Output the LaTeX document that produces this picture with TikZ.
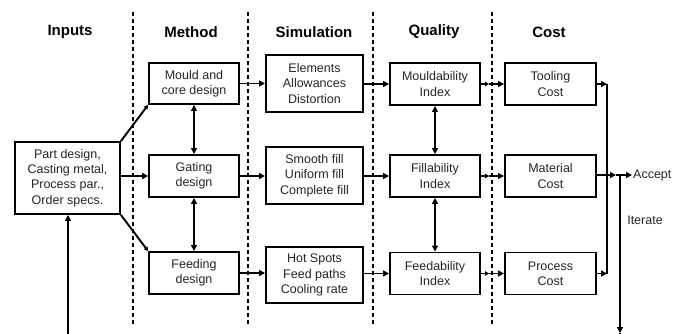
\documentclass[tikz,border=0pt]{standalone}
\usepackage{fontspec}
\setmainfont{Liberation Sans}
\usetikzlibrary{arrows.meta}
\begin{document}
\begin{tikzpicture}[x=1pt,y=-1pt,
  box/.style={draw, line width=1.9pt, align=center, inner sep=1pt,
    font=\fontsize{12.5}{15.3}\selectfont, text=black!85},
  hdr/.style={font=\fontsize{15}{18}\selectfont\bfseries},
  lbl/.style={font=\fontsize{12.5}{15}\selectfont, text=black!85, inner sep=1pt},
  arr/.style={line width=1.9pt, -{Triangle[length=6pt,width=6pt]}},
  sarr/.style={line width=1.9pt, -{Triangle[length=4pt,width=4.5pt]}},
  darr/.style={line width=1.9pt, {Triangle[length=6pt,width=6pt]}-{Triangle[length=6pt,width=6pt]}},
  ln/.style={line width=1.9pt},
  sep/.style={line width=1.9pt, dash pattern=on 4pt off 3pt}]
\useasboundingbox (0,0) rectangle (683,334);
\fill[white] (0,0) rectangle (683,334);

% headers
\node[hdr] (hin) at (70,32) {Inputs};
\node[hdr] (hme) at (191,32) {Method};
\node[hdr] (hsi) at (314,32) {Simulation};
\node[hdr] (hqu) at (434,32) {Quality};
\node[hdr] (hco) at (549,32) {Cost};

% separators
\coordinate (s1t) at (133,12); \coordinate (s1b) at (133,326);
\coordinate (s2t) at (248,12); \coordinate (s2b) at (248,326);
\coordinate (s3t) at (373,12); \coordinate (s3b) at (373,326);
\coordinate (s4t) at (492,12); \coordinate (s4b) at (492,326);
\draw[sep] (s1t) -- (s1b);
\draw[sep] (s2t) -- (s2b);
\draw[sep] (s3t) -- (s3b);
\draw[sep] (s4t) -- (s4b);

% boxes
\node[box, minimum width=105pt, minimum height=72pt] (in) at (67.5,178) {Part design,\\Casting metal,\\Process par.,\\Order specs.};

\node[box, minimum width=90pt, minimum height=41pt] (mould) at (194,83.5) {Mould and\\core design};
\node[box, minimum width=90pt, minimum height=42pt] (gating) at (194,176) {Gating\\design};
\node[box, minimum width=90pt, minimum height=42pt] (feeding) at (194,273) {Feeding\\design};

\node[box, minimum width=97pt, minimum height=57pt] (sim1) at (314.5,83.5) {Elements\\Allowances\\Distortion};
\node[box, minimum width=97pt, minimum height=57pt] (sim2) at (314.5,175.5) {Smooth fill\\Uniform fill\\Complete fill};
\node[box, minimum width=97pt, minimum height=56pt] (sim3) at (314.5,275) {Hot Spots\\Feed paths\\Cooling rate};

\node[box, minimum width=90pt, minimum height=42pt] (q1) at (435,84) {Mouldability\\Index};
\node[box, minimum width=90pt, minimum height=42pt] (q2) at (435,176) {Fillability\\Index};
\node[box, minimum width=90pt, minimum height=42pt] (q3) at (435,273.5) {Feedability\\Index};

\node[box, minimum width=91pt, minimum height=42pt] (c1) at (550.5,84) {Tooling\\Cost};
\node[box, minimum width=91pt, minimum height=42pt] (c2) at (550.5,176) {Material\\Cost};
\node[box, minimum width=91pt, minimum height=42pt] (c3) at (550.5,273.5) {Process\\Cost};

% inputs to method
\draw[sarr] (in.north east) -- (mould.south west);
\draw[sarr] (in.south east) -- (feeding.north west);
\draw[arr] (in.east |- gating.west) -- (gating.west);

% vertical links
\draw[darr] (mould) -- (gating);
\draw[darr] (gating) -- (feeding);
\draw[darr] (q1) -- (q2);
\draw[darr] (q2) -- (q3);

% method -> simulation -> quality
\draw[arr] (mould.east) -- (mould.east -| sim1.west);
\draw[arr] (gating.east) -- (gating.east -| sim2.west);
\draw[arr] (feeding.east) -- (feeding.east -| sim3.west);
\draw[arr] (sim1.east |- q1.west) -- (q1.west);
\draw[arr] (sim2.east |- q2.west) -- (q2.west);
\draw[arr] (sim3.east |- q3.west) -- (q3.west);

% quality -> cost (with mid arrowheads)
\coordinate (e1) at (489,84);
\coordinate (e2) at (489,176);
\coordinate (e3) at (489,273.5);
\draw[sarr] (q1.east) -- (e1);
\draw[arr] (e1) -- (c1.west);
\draw[sarr] (q2.east) -- (e2);
\draw[arr] (e2) -- (c2.west);
\draw[sarr] (q3.east) -- (e3);
\draw[arr] (e3) -- (c3.west);

% collector
\coordinate (k1) at (607,84);
\coordinate (k3) at (607,273.5);
\draw[arr] (c1.east) -- (k1);
\draw[arr] (c3.east) -- (k3);
\draw[ln] (k1) -- (k3);

% accept / iterate
\node[lbl, anchor=west] (acc) at (632,175) {Accept};
\node[lbl] (it) at (645,220) {Iterate};
\coordinate (m1) at (616,175);
\coordinate (j) at (620,175);
\draw[arr] (c2.east |- acc.west) -- (m1);
\draw[arr] (m1) -- (acc.west);
\coordinate (d1) at (620,333);
\coordinate (b1) at (620,342);
\coordinate (b2) at (68,342);
\draw[arr] (j) -- (d1);
\draw[arr] (d1) -- (b1) -- (b2) -- (b2 |- in.south);
\end{tikzpicture}
\end{document}
